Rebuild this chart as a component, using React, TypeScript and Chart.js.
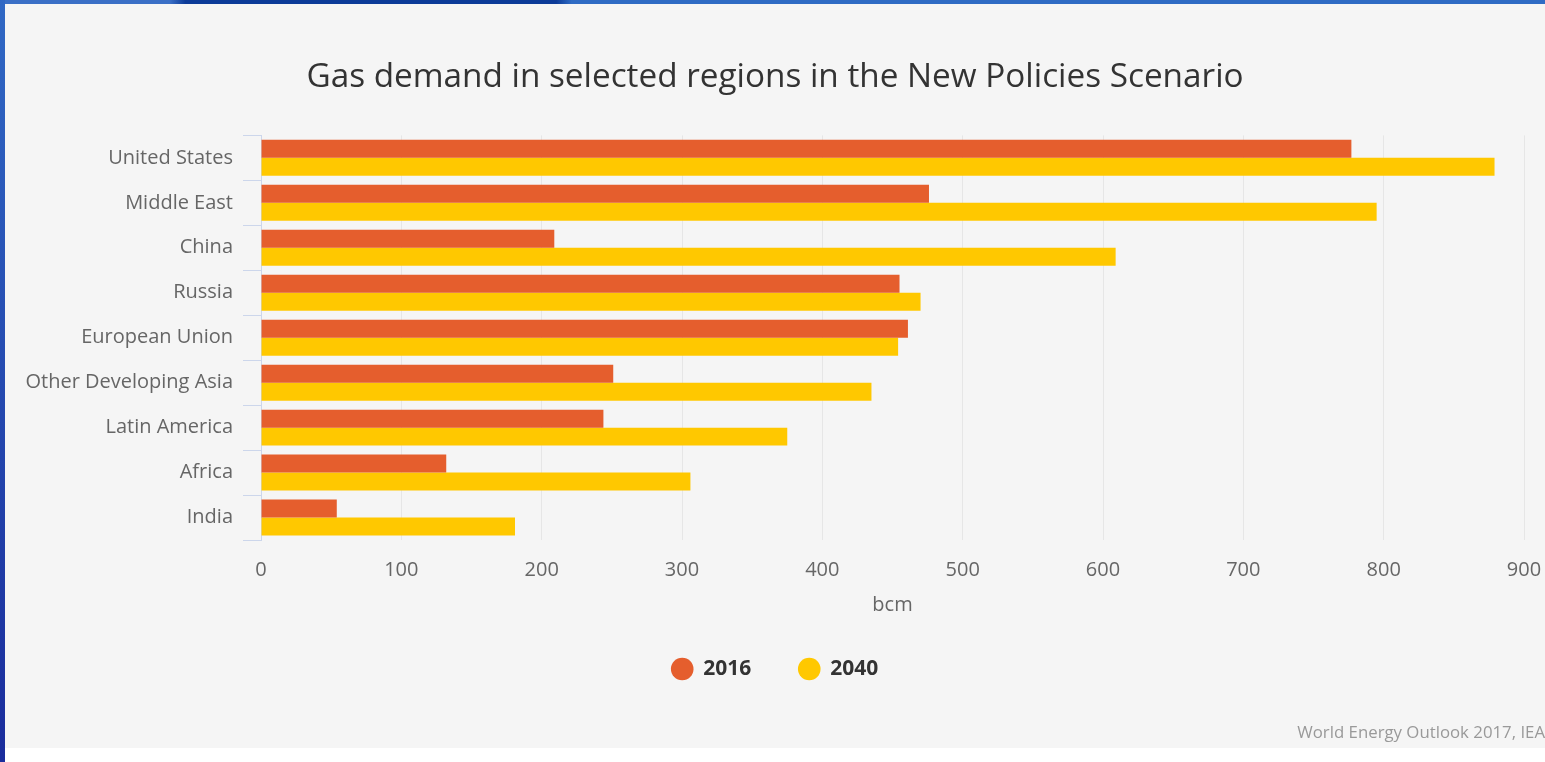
import React, { useEffect, useRef } from "react";
import { Chart, registerables } from "chart.js";
Chart.register(...registerables);

const categories = [
  "United States",
  "Middle East",
  "China",
  "Russia",
  "European Union",
  "Other Developing Asia",
  "Latin America",
  "Africa",
  "India",
];
const values2016 = [777, 476, 209, 455, 461, 251, 244, 132, 54];
const values2040 = [879, 795, 609, 470, 454, 435, 375, 306, 181];
const seriesNames = ["2016", "2040"];
const seriesColors = ["#e55e2d", "#ffc800"];
const titleText = "Gas demand in selected regions in the New Policies Scenario";
const axisTitle = "bcm";
const creditText = "World Energy Outlook 2017, IEA";
const xMin = 0;
const xMax = 900;
const xStep = 100;

const FONT = "'Open Sans', 'Noto Sans', sans-serif";

export default function App() {
  const ref = useRef<HTMLCanvasElement | null>(null);

  useEffect(() => {
    document.body.style.margin = "0";
    const canvas = ref.current;
    if (!canvas) return;
    Chart.defaults.font.family = FONT;
    const chart = new Chart(canvas, {
      type: "bar",
      data: {
        labels: categories,
        datasets: [
          {
            label: seriesNames[0],
            data: values2016,
            backgroundColor: seriesColors[0],
            borderWidth: 0,
            categoryPercentage: 0.8,
            barPercentage: 1.0,
          },
          {
            label: seriesNames[1],
            data: values2040,
            backgroundColor: seriesColors[1],
            borderWidth: 0,
            categoryPercentage: 0.8,
            barPercentage: 1.0,
          },
        ],
      },
      options: {
        indexAxis: "y",
        responsive: false,
        animation: false,
        layout: { padding: { left: 0, right: 0, top: 0, bottom: 0 } },
        scales: {
          x: {
            min: xMin,
            max: xMax,
            ticks: {
              stepSize: xStep,
              color: "#666666",
              font: { size: 20 },
              padding: 18,
            },
            grid: { color: "#e6e6e6", drawTicks: false },
            border: { display: false },
            title: {
              display: true,
              text: axisTitle,
              color: "#666666",
              font: { size: 20 },
              padding: { top: -7, bottom: -6 },
            },
            afterFit: (scale: any) => {
              scale.paddingRight = 21;
              scale.paddingLeft = 0;
            },
          },
          y: {
            ticks: { color: "#666666", font: { size: 20 }, padding: 10 },
            grid: {
              offset: true,
              drawOnChartArea: false,
              drawTicks: true,
              tickLength: 18,
              color: "#ccd6eb",
            },
            border: { display: true, color: "#ccd6eb" },
            afterFit: (scale: any) => {
              scale.width = 256;
            },
          },
        },
        plugins: {
          tooltip: { enabled: false },
          title: {
            display: true,
            text: titleText,
            color: "#333333",
            font: { size: 33.3, weight: "normal" },
            padding: { top: 53.7, bottom: 37.7 },
          },
          subtitle: {
            display: true,
            text: creditText,
            position: "bottom",
            align: "end",
            color: "#999999",
            font: { size: 16.8, weight: "normal" },
            padding: { top: 33.4, bottom: 4.9 },
          },
          legend: {
            position: "bottom",
            labels: {
              usePointStyle: true,
              pointStyle: "circle",
              boxWidth: 24,
              boxHeight: 16,
              color: "#333333",
              font: { size: 21, weight: "bold" },
              padding: 47.5,
            },
          },
        },
      },
    });
    return () => chart.destroy();
  }, []);

  return (
    <div
      style={{
        position: "fixed",
        left: 0,
        top: 0,
        width: 1545,
        height: 762,
        background: "#ffffff",
        overflow: "hidden",
      }}
    >
      <div
        style={{
          position: "absolute",
          left: 0,
          top: 0,
          width: 1545,
          height: 4,
          background: "linear-gradient(to right, #3a6fc6 0%, #3a6fc6 11%, #0c3b98 12%, #0c3b98 36%, #2f6bc4 37%, #2f6bc4 100%)",
        }}
      />
      <div
        style={{
          position: "absolute",
          left: 0,
          top: 0,
          width: 5,
          height: 762,
          background: "linear-gradient(to bottom, #3068c4, #1a2c9c)",
        }}
      />
      <div
        style={{
          position: "absolute",
          left: 5,
          top: 4,
          width: 1540,
          height: 744,
          background: "#f5f5f5",
        }}
      >
        <canvas ref={ref} width={1540} height={744} style={{ display: "block" }} />
      </div>
    </div>
  );
}
